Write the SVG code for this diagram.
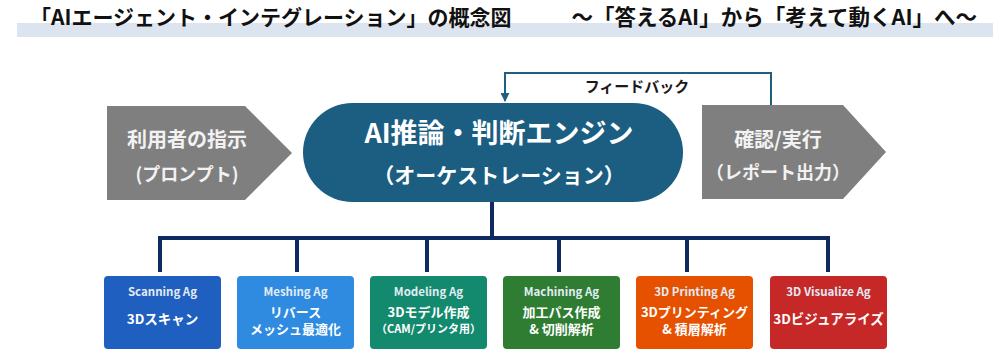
<svg xmlns="http://www.w3.org/2000/svg" width="1000" height="350" viewBox="0 0 1000 350">
<defs>
<style>
text{font-family:"Noto Sans CJK JP","Noto Sans",sans-serif;font-weight:bold;text-anchor:middle}
.title{font-size:21px;fill:#111;text-anchor:start}
.arrowT{fill:#f2f2f2;font-size:20px}
.arrowS{fill:#f2f2f2;font-size:18px}
.eng1{fill:#fff;font-size:27px}
.eng2{fill:#fff;font-size:21px}
.fb{fill:#1a1a1a;font-size:15px}
.ag{fill:#e3ebf5;font-size:11.5px}
.am{fill:#fff;font-size:13.5px}
.am2{fill:#fff;font-size:13px}
.as{fill:#fff;font-size:11px}
.tree{fill:none;stroke:#0e2a60;stroke-width:4}
.fbline{fill:none;stroke:#1f5f80;stroke-width:2}
</style>
<marker id="ah" viewBox="0 0 10 10" refX="9" refY="5" markerWidth="4.5" markerHeight="4.5" orient="auto">
<path d="M0,0 L10,5 L0,10 z" fill="#1f5f80"/>
</marker>
</defs>
<rect width="1000" height="350" fill="#fff"/>
<g id="title">
<rect x="17" y="23" width="976" height="14" fill="#dce4ef"/>
<text class="title" x="30" y="25">「AIエージェント・インテグレーション」の概念図</text>
<text class="title" x="977" y="25" style="text-anchor:end;font-size:21.5px">～「答えるAI」から「考えて動くAI」へ～</text>
</g>
<g id="connectors">
<path class="fbline" d="M771,105 V73 H505 V101" marker-end="url(#ah)"/>
<path class="tree" d="M492,202 V238 M160,272 V238 H828 V272 M297,238 V272 M427,238 V272 M559,238 V272 M687,238 V272"/>
</g>
<g id="feedback-label"><text class="fb" x="637" y="92">フィードバック</text></g>
<g id="input">
<polygon points="107,106 245,106 292,153 245,200 107,200" fill="#7f7f7f"/>
<text class="arrowT" x="187" y="147">利用者の指示</text>
<text class="arrowS" x="187" y="181">(プロンプト)</text>
</g>
<g id="engine">
<rect x="303" y="103" width="380" height="99" rx="49.5" fill="#1b5e82"/>
<text class="eng1" x="499" y="143">AI推論・判断エンジン</text>
<text class="eng2" x="499" y="183">（オーケストレーション）</text>
</g>
<g id="output">
<polygon points="702,105 843,105 886,152 843,199 702,199" fill="#7f7f7f"/>
<text class="arrowT" x="778" y="147">確認/実行</text>
<text class="arrowS" x="778" y="179">（レポート出力）</text>
</g>
<g id="scanning">
<rect x="104" y="276" width="117" height="73" rx="4" fill="#1f5fbf"/>
<text class="ag" x="162.5" y="296">Scanning Ag</text>
<text class="am" x="162.5" y="324">3Dスキャン</text>
</g>
<g id="meshing">
<rect x="237" y="276" width="117" height="73" rx="4" fill="#2e8be0"/>
<text class="ag" x="295.5" y="296">Meshing Ag</text>
<text class="am2" x="295.5" y="316.5">リバース</text>
<text class="am2" x="295.5" y="333.5">メッシュ最適化</text>
</g>
<g id="modeling">
<rect x="370" y="276" width="117" height="73" rx="4" fill="#138a6e"/>
<text class="ag" x="428.5" y="296">Modeling Ag</text>
<text class="am2" x="428.5" y="316.5">3Dモデル作成</text>
<text class="as" x="428.5" y="333">（CAM/プリンタ用）</text>
</g>
<g id="machining">
<rect x="503" y="276" width="117" height="73" rx="4" fill="#2e7d32"/>
<text class="ag" x="561.5" y="296">Machining Ag</text>
<text class="am2" x="561.5" y="316.5">加工パス作成</text>
<text class="am2" x="561.5" y="333.5">&amp; 切削解析</text>
</g>
<g id="printing">
<rect x="636" y="276" width="117" height="73" rx="4" fill="#e65100"/>
<text class="ag" x="694.5" y="296">3D Printing Ag</text>
<text class="am2" x="694.5" y="316.5">3Dプリンティング</text>
<text class="am2" x="694.5" y="333.5">&amp; 積層解析</text>
</g>
<g id="visualize">
<rect x="770" y="276" width="117" height="73" rx="4" fill="#c62828"/>
<text class="ag" x="828.5" y="296">3D Visualize Ag</text>
<text class="am" x="828.5" y="324">3Dビジュアライズ</text>
</g>
</svg>
